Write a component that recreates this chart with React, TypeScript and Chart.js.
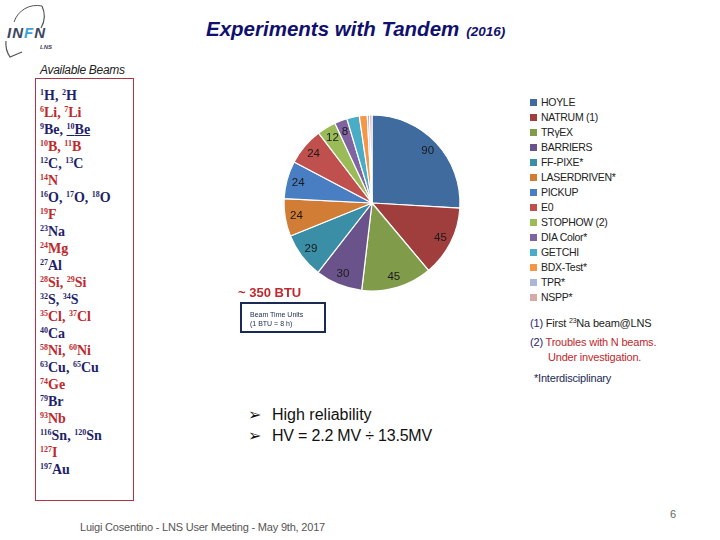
import React, { useEffect, useRef } from "react";
import { Chart, registerables } from "chart.js";

Chart.register(...registerables);

const experiments = [
  "HOYLE",
  "NATRUM (1)",
  "TRγEX",
  "BARRIERS",
  "FF-PIXE*",
  "LASERDRIVEN*",
  "PICKUP",
  "E0",
  "STOPHOW (2)",
  "DIA Color*",
  "GETCHI",
  "BDX-Test*",
  "TPR*",
  "NSPP*",
];
const btuValues = [90, 45, 45, 30, 29, 24, 24, 24, 12, 8, 8, 5, 1.5, 1.5];
const valueLabels = ["90", "45", "45", "30", "29", "24", "24", "24", "12", "8", "", "", "", ""];
const sliceColors = [
  "#3f6b9e",
  "#9f3e3c",
  "#809b4a",
  "#6a538b",
  "#3a8ea5",
  "#d17d35",
  "#4a7ec2",
  "#c0504d",
  "#9bbb59",
  "#8064a2",
  "#4bacc6",
  "#f79646",
  "#a9b8d6",
  "#d8a9a9",
];

// Beams: mass numbers and element symbols, one row per line of the box
const beamMasses = [
  ["1", "2"], ["6", "7"], ["9", "10"], ["10", "11"], ["12", "13"], ["14"], ["16", "17", "18"],
  ["19"], ["23"], ["24"], ["27"], ["28", "29"], ["32", "34"], ["35", "37"], ["40"],
  ["58", "60"], ["63", "65"], ["74"], ["79"], ["93"], ["116", "120"], ["127"], ["197"],
];
const beamElements = [
  ["H", "H"], ["Li", "Li"], ["Be", "Be"], ["B", "B"], ["C", "C"], ["N"], ["O", "O", "O"],
  ["F"], ["Na"], ["Mg"], ["Al"], ["Si", "Si"], ["S", "S"], ["Cl", "Cl"], ["Ca"],
  ["Ni", "Ni"], ["Cu", "Cu"], ["Ge"], ["Br"], ["Nb"], ["Sn", "Sn"], ["I"], ["Au"],
];
const beamIsRed = beamMasses.map((_, i) => i % 2 === 1);

const NAVY = "#1f1f6b";
const RED = "#c0282d";

const sliceLabelPlugin = {
  id: "sliceLabels",
  afterDatasetsDraw(chart: any) {
    const ctx = chart.ctx;
    const meta = chart.getDatasetMeta(0);
    meta.data.forEach((arc: any, i: number) => {
      const text = valueLabels[i];
      if (!text) return;
      const p = arc.getProps(["x", "y", "startAngle", "endAngle", "outerRadius"], true);
      const mid = (p.startAngle + p.endAngle) / 2;
      const r = p.outerRadius * 0.87;
      ctx.save();
      ctx.font = "11.5px 'Liberation Sans', Arial, sans-serif";
      ctx.fillStyle = "#1a1a1a";
      ctx.textAlign = "center";
      ctx.textBaseline = "middle";
      ctx.fillText(text, p.x + Math.cos(mid) * r, p.y + Math.sin(mid) * r);
      ctx.restore();
    });
  },
};

function Pie() {
  const ref = useRef<HTMLCanvasElement | null>(null);
  useEffect(() => {
    if (!ref.current) return;
    const chart = new Chart(ref.current, {
      type: "pie",
      data: {
        labels: experiments,
        datasets: [
          {
            data: btuValues,
            backgroundColor: sliceColors,
            borderColor: "#ffffff",
            borderWidth: 1.2,
          },
        ],
      },
      options: {
        responsive: false,
        animation: false,
        radius: 88,
        layout: { padding: 0 },
        plugins: {
          legend: { display: false },
          tooltip: { enabled: false },
        },
      },
      plugins: [sliceLabelPlugin],
    });
    return () => chart.destroy();
  }, []);
  return (
    <canvas
      ref={ref}
      width={200}
      height={186}
      style={{ position: "absolute", left: 272, top: 110, width: 200, height: 186 }}
    />
  );
}

const abs = (left: number, top: number, extra: React.CSSProperties = {}): React.CSSProperties => ({
  position: "absolute",
  left,
  top,
  lineHeight: 1,
  whiteSpace: "nowrap",
  ...extra,
});

const SANS = "'Liberation Sans', Arial, sans-serif";
const SERIF = "'Liberation Serif', 'Times New Roman', serif";

export default function App() {
  return (
    <div
      style={{
        position: "absolute",
        left: 0,
        top: 0,
        width: 720,
        height: 540,
        background: "#ffffff",
        overflow: "hidden",
        fontFamily: SANS,
      }}
    >
      {/* INFN logo */}
      <svg style={{ position: "absolute", left: 0, top: 0 }} width={70} height={65}>
        <path d="M 14 22 A 24 24 0 0 1 42 6" stroke="#555" strokeWidth={1} fill="none" />
        <path d="M 42 6 A 24 24 0 0 1 41 28" stroke="#555" strokeWidth={1.2} fill="none" />
        <path d="M 6 41 A 24 24 0 0 0 10 57 L 22 52" stroke="#555" strokeWidth={1.2} fill="none" />
      </svg>
      <div style={abs(7, 25, { fontSize: 15, fontWeight: "bold", fontStyle: "italic", color: "#3b4660", letterSpacing: 1 })}>
        IN<span style={{ color: "#3aa3dc" }}>F</span>N
      </div>
      <div style={abs(40, 44, { fontSize: 6, fontWeight: "bold", fontStyle: "italic", color: "#3b4660" })}>LNS</div>

      {/* Title */}
      <div style={abs(206, 19, { fontSize: 20.5, fontWeight: "bold", fontStyle: "italic", color: "#10106e" })}>
        Experiments with Tandem
        <span style={{ fontSize: 13.5, marginLeft: 7 }}>(2016)</span>
      </div>

      <div style={abs(40, 64, { fontSize: 12, fontStyle: "italic", color: "#222", letterSpacing: -0.3 })}>
        Available Beams
      </div>

      {/* Beams box */}
      <div
        style={{
          position: "absolute",
          left: 35,
          top: 78,
          width: 99,
          height: 423,
          border: "1.5px solid #b03444",
          boxSizing: "border-box",
        }}
      />
      {beamMasses.map((masses, i) => (
        <div
          key={i}
          style={abs(40, 89 + i * 17, {
            fontFamily: SERIF,
            fontWeight: "bold",
            fontSize: 14,
            color: beamIsRed[i] ? RED : NAVY,
          })}
        >
          {masses.map((m, j) => (
            <span key={j} style={i === 2 && j === 1 ? { textDecoration: "underline" } : {}}>
              <sup style={{ fontSize: 8, verticalAlign: 5 }}>{m}</sup>
              {beamElements[i][j]}
              {j < masses.length - 1 ? ", " : ""}
            </span>
          ))}
        </div>
      ))}

      <Pie />

      {/* BTU notes */}
      <div style={abs(238, 286, { fontSize: 13, fontWeight: "bold", color: "#c0282d" })}>~ 350 BTU</div>
      <div
        style={{
          position: "absolute",
          left: 240,
          top: 302,
          width: 86,
          height: 31,
          border: "2px solid #1b2a55",
          boxSizing: "border-box",
          fontSize: 7,
          fontFamily: SANS,
          color: "#1b2a55",
          padding: "6px 0 0 8px",
          lineHeight: "9px",
        }}
      >
        Beam Time Units
        <br />
        (1 BTU = 8 h)
      </div>

      {/* Legend */}
      {experiments.map((name, i) => (
        <div key={name} style={abs(530, 97 + i * 15, { fontSize: 10.5, color: "#222", letterSpacing: -0.3 })}>
          <span
            style={{
              display: "inline-block",
              width: 7,
              height: 7,
              background: sliceColors[i],
              marginRight: 4,
              verticalAlign: 0,
            }}
          />
          {name}
        </div>
      ))}

      {/* Notes */}
      <div style={abs(530, 317, { fontSize: 11, color: "#222", letterSpacing: -0.2 })}>
        <span style={{ color: NAVY }}>(1)</span> First <sup style={{ fontSize: 7, verticalAlign: 4 }}>23</sup>Na beam@LNS
      </div>
      <div style={abs(530, 337, { fontSize: 11, color: RED, letterSpacing: -0.2 })}>
        <span style={{ color: NAVY }}>(2)</span> Troubles with N beams.
      </div>
      <div style={abs(548, 352, { fontSize: 11, color: RED, letterSpacing: -0.2 })}>Under investigation.</div>
      <div style={abs(534, 373, { fontSize: 11, color: "#1b2a55", letterSpacing: -0.2 })}>*Interdisciplinary</div>

      {/* Bullets */}
      <div style={abs(248, 407, { fontSize: 16, color: "#111" })}>
        <span style={{ display: "inline-block", width: 24 }}>➢</span>High reliability
      </div>
      <div style={abs(248, 428, { fontSize: 16, color: "#111", letterSpacing: -0.2 })}>
        <span style={{ display: "inline-block", width: 24 }}>➢</span>HV = 2.2 MV ÷ 13.5MV
      </div>

      {/* Footer */}
      <div style={abs(80, 522, { fontSize: 11, color: "#555", letterSpacing: -0.2 })}>
        Luigi Cosentino - LNS User Meeting -  May 9th, 2017
      </div>
      <div style={abs(670, 509, { fontSize: 11, color: "#666" })}>6</div>
    </div>
  );
}
